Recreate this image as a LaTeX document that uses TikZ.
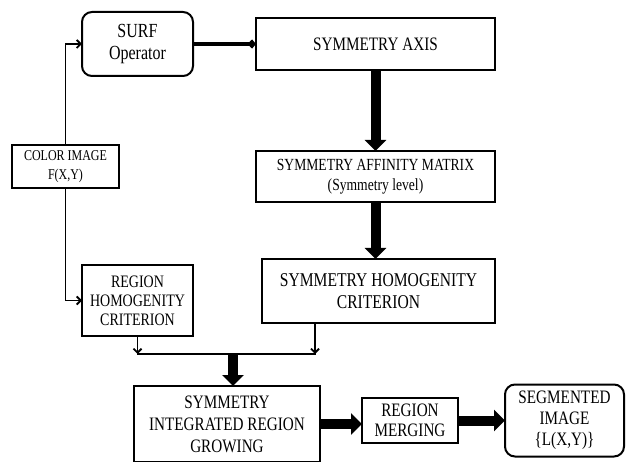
\documentclass[tikz,border=0pt]{standalone}
\usepackage{fontspec}
\setmainfont{Liberation Serif}[FakeStretch=0.8]
\usetikzlibrary{positioning,arrows.meta}

\begin{document}
\begin{tikzpicture}
[
x=1pt, y=1pt,
box-a/.style={rectangle, draw, line width=2pt, align=center, inner sep=0pt, outer sep=0pt},
box-b/.style={box-a, rounded corners=10pt},
line-a/.style={-{Straight Barb[length=4pt,width=8pt]}, line width=1.8pt},
line-b/.style={-{Triangle[width=21pt,length=11pt]}, line width=10pt},
line-c/.style={-{Straight Barb[length=3pt,width=7pt]}, line width=3.2pt}
]

\useasboundingbox (0,0) rectangle (626,-462);
\clip (0,0) rectangle (626,-462);

\node (box-surf)   [box-b, minimum width=111pt, minimum height=64pt, font={\fontsize{20}{22}\selectfont}] at (137.5,-44) {SURF\\Operator};
\node (box-axis)   [box-a, right =  63pt of box-surf,  minimum width=239pt, minimum height=52pt, font={\fontsize{19}{22}\selectfont}] {SYMMETRY AXIS};
\node (box-affin)  [box-a, below =  81pt of box-axis,  minimum width=239pt, minimum height=51pt, font={\fontsize{17}{20}\selectfont}] {SYMMETRY AFFINITY MATRIX\\(Symmetry level)};
\node (box-symhom) [box-a, below =  57pt of box-affin, xshift=3pt, minimum width=233pt, minimum height=64pt, font={\fontsize{19.5}{22}\selectfont}] {SYMMETRY HOMOGENITY\\CRITERION};
\node (box-color)  [box-a, minimum width=107pt, minimum height=43pt, font={\fontsize{15}{19}\selectfont}] at (65.5,-166.5) {COLOR IMAGE\\F(X,Y)};
\node (box-reghom) [box-a, below = 189pt of box-surf,  minimum width=111pt, minimum height=71pt, font={\fontsize{17.5}{19}\selectfont}] {REGION\\HOMOGENITY\\CRITERION};
\node (box-sirg)   [box-a, minimum width=186pt, minimum height=76pt, font={\fontsize{19}{22}\selectfont}] at (227,-424) {SYMMETRY\\INTEGRATED REGION\\GROWING};
\node (box-merge)  [box-a, right =  42pt of box-sirg,  yshift=3.5pt, minimum width=96pt, minimum height=45pt, font={\fontsize{19}{20}\selectfont}] {REGION\\MERGING};
\node (box-seg)    [box-b, right =  47pt of box-merge, minimum width=119pt, minimum height=72pt, font={\fontsize{19}{21}\selectfont}] {SEGMENTED\\IMAGE\\\{L(X,Y)\}};

% input branches
\draw [line-a] (box-color.north) |- (box-surf.west);
\draw [line-a] (box-color.south) |- (box-reghom.west);

% symmetry column
\draw [line-c] (box-surf) -- (box-axis);
\draw [line-b] (box-axis) -- (box-affin);
\draw [line-b] (box-affin.south) -- (box-affin.south |- box-symhom.north);

% merge of the two criteria
\coordinate (join-l) at ([yshift=-18pt]box-reghom.south);
\coordinate (join-r) at ([xshift=53pt]join-l -| box-symhom.south west);
\coordinate (join-m) at ([xshift=6pt]join-l -| box-sirg.north);
\draw [line-a] (box-reghom) -- (join-l);
\draw [line-a] (join-r |- box-symhom.south) -- (join-r);
\draw [line width=1.8pt, line cap=rect] (join-l) -- (join-r);
\draw [line-b] (join-m) -- (join-m |- box-sirg.north);

% output chain
\draw [line-b] (box-sirg.east) -- (box-sirg.east -| box-merge.west);
\draw [line-b] (box-merge) -- (box-seg);

\end{tikzpicture}
\end{document}
